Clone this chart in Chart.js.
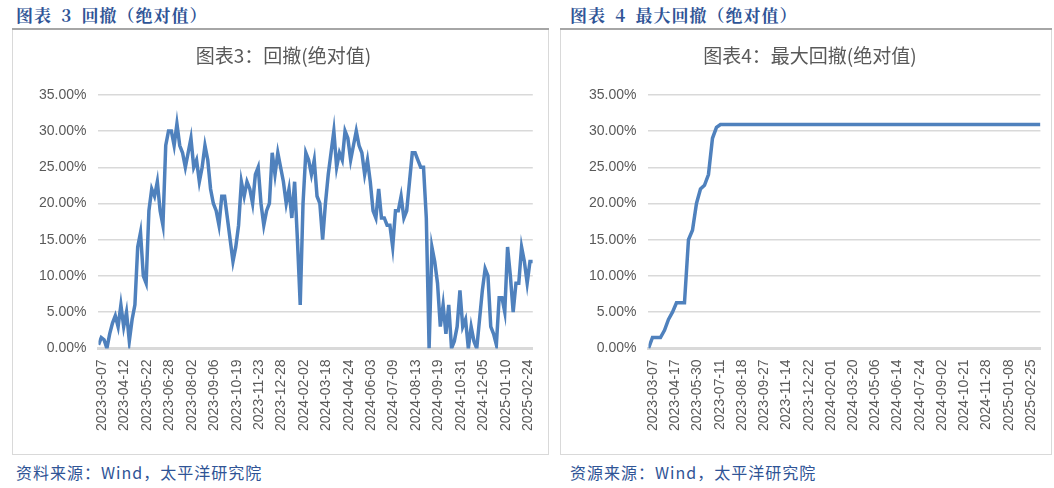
<!DOCTYPE html>
<html><head><meta charset="utf-8">
<script src="https://cdn.jsdelivr.net/npm/chart.js@4"></script>
<style>
body{margin:0;width:1054px;height:488px;background:#fff;position:relative;overflow:hidden;font-family:"Noto Sans CJK SC",sans-serif}
.hd{position:absolute;top:2px;font-size:17px;font-weight:bold;color:#2f5496;font-family:"Noto Serif CJK SC","Noto Sans CJK SC",serif;word-spacing:4px;letter-spacing:1px}
.ln{position:absolute;top:28px;height:2px;background:#a6a6a6}
.box{position:absolute;top:30px;height:425px;border-left:1px solid #d9d9d9;border-right:1px solid #d9d9d9;border-bottom:1px solid #d9d9d9;box-sizing:border-box}
.ft{position:absolute;top:460px;font-size:16px;color:#2f5496;letter-spacing:1px}
canvas{position:absolute}
</style></head><body>
<div class="hd" style="left:16px">图表 3 回撤（绝对值）</div>
<div class="hd" style="left:570px">图表 4 最大回撤（绝对值）</div>
<div class="ln" style="left:12px;width:537px"></div>
<div class="ln" style="left:560px;width:492px"></div>
<div class="box" style="left:12px;width:537px"><canvas id="c1"></canvas></div>
<div class="box" style="left:560px;width:492px"><canvas id="c2"></canvas></div>
<div class="ft" style="left:16px">资料来源：Wind，太平洋研究院</div>
<div class="ft" style="left:570px">资源来源：Wind，太平洋研究院</div>
<script>
const ddTickLabels=["2023-03-07","2023-04-12","2023-05-22","2023-06-28","2023-08-02","2023-09-06","2023-10-19","2023-11-23","2023-12-28","2024-02-02","2024-03-18","2024-04-24","2024-06-03","2024-07-09","2024-08-13","2024-09-19","2024-10-31","2024-12-05","2025-01-10","2025-02-24"];
const ddValues=[0.5,1.5,1.2,0,2,3.5,4.5,3,6,3,5,1,4,6,14,16,10,9,19,22,21,23,19,17,28,30,30,28,31,28,27,25,27,29,25,26,23,25,28,26,22,20,19,17,21,21,18,15,12,14,17,23,21,23,22,20,24,25,20,17,19,20,27,24,27,25,23,20,22,18,23,15,6,20,27,26,24,26,21,20,15,20,24,27,30,25,27,26,30,29,26,28,30,28,27,24,26,23,19,18,22,18,18,17,17,14,19,19,21,18,19,23,27,27,26,25,25,18,0,14,12,9,3,6,2,6,0,1,3,8,3,4,0,3,1,0,4,8,11,10,3,2,0.5,7,7,5,14,10,5,9,9,14,12,9,12,12];
const mdTickLabels=["2023-03-07","2023-04-17","2023-05-30","2023-07-11","2023-08-18","2023-09-27","2023-11-14","2023-12-22","2024-02-01","2024-03-20","2024-05-06","2024-06-14","2024-07-24","2024-09-02","2024-10-21","2024-11-28","2025-01-08","2025-02-25"];
const mdValues=[0,1.5,1.5,1.5,2.5,4,5,6.3,6.3,6.3,15,16.3,20,22,22.5,24,29,30.5,30.9,30.9,30.9,30.9,30.9,30.9,30.9,30.9,30.9,30.9,30.9,30.9,30.9,30.9,30.9,30.9,30.9,30.9,30.9,30.9,30.9,30.9,30.9,30.9,30.9,30.9,30.9,30.9,30.9,30.9,30.9,30.9,30.9,30.9,30.9,30.9,30.9,30.9,30.9,30.9,30.9,30.9,30.9,30.9,30.9,30.9,30.9,30.9,30.9,30.9,30.9,30.9,30.9,30.9,30.9,30.9,30.9,30.9,30.9,30.9,30.9,30.9,30.9,30.9,30.9,30.9,30.9,30.9,30.9,30.9,30.9,30.9,30.9,30.9,30.9,30.9,30.9,30.9,30.9,30.9,30.9];

function make(id,w,title,vals,ticks,span,first,step,padL){
  const cv=document.getElementById(id);
  cv.style.width=w+'px';cv.style.height='424px';cv.width=w;cv.height=424;
  const n=vals.length;
  const data=vals.map((v,i)=>({x:i*span/(n-1),y:v}));
  const tickPos=ticks.map((t,k)=>first+k*step);
  new Chart(cv,{type:'line',data:{datasets:[{data,borderColor:'#4f81bd',borderWidth:3.5,pointRadius:0,tension:0}]},
  options:{responsive:false,animation:false,
    layout:{padding:{left:padL,right:8,top:8,bottom:20}},
    plugins:{legend:{display:false},tooltip:{enabled:false},
      title:{display:true,text:title,color:'#595959',font:{size:19,family:'"Noto Sans CJK SC"',weight:'normal'},padding:{top:6,bottom:28}}},
    scales:{
      x:{type:'linear',min:0,max:span,
        afterBuildTicks:ax=>{ax.ticks=tickPos.map(v=>({value:v}));},
        ticks:{autoSkip:false,maxRotation:90,minRotation:90,color:'#595959',font:{size:14,family:'"Liberation Sans"'},
          callback:(v)=>{const k=tickPos.indexOf(v);return k>=0?ticks[k]:'';}},
        grid:{display:false},border:{color:'#d9d9d9',width:3}},
      y:{min:0,max:35,
        ticks:{stepSize:5,color:'#595959',font:{size:14,family:'"Liberation Sans"'},padding:12,callback:v=>v.toFixed(2)+'%'},
        grid:{color:'#d9d9d9',lineWidth:1.5,drawTicks:false},border:{display:false}}
    }}});
}
make('c1',535,'图表3：回撤(绝对值)',ddValues,ddTickLabels,465,4,24,14);
make('c2',490,'图表4：最大回撤(绝对值)',mdValues,mdTickLabels,520,6,29.5,16);
</script></body></html>
